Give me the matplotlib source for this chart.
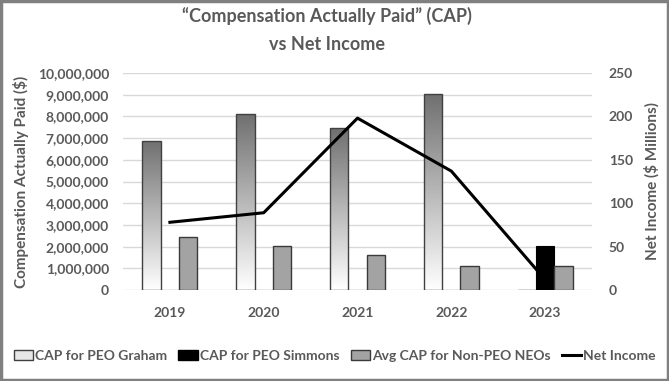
import numpy as np
import matplotlib
matplotlib.use("Agg")
import matplotlib.pyplot as plt
from matplotlib.patches import Rectangle, Patch
from matplotlib.lines import Line2D
from matplotlib.ticker import FuncFormatter, MultipleLocator

years = ["2019", "2020", "2021", "2022", "2023"]
cap_graham = [6880000, 8110000, 7450000, 9030000, 0]
cap_simmons = [0, 0, 0, 0, 2030000]
cap_neo = [2460000, 2040000, 1610000, 1120000, 1120000]
net_income = [78, 89, 198, 137, 12]

TXT = "#595959"
plt.rcParams['font.family'] = ['Lato', 'DejaVu Sans']
plt.rcParams['font.weight'] = 'bold'

fig = plt.figure(figsize=(6.69, 3.81), dpi=100)
ax = fig.add_axes([123/669, 1-290/381, (592-123)/669, (290-73)/381])
ax2 = ax.twinx()

x = np.arange(len(years))
w = 0.195
bg = ax.bar(x - w, cap_graham, w, facecolor='none', edgecolor='#404040', linewidth=1.0, zorder=3)
bs = ax.bar(x, cap_simmons, w, color='black', edgecolor='black', linewidth=0.8, zorder=3)
bn = ax.bar(x + w, cap_neo, w, color='#a3a3a3', edgecolor='#3a3a3a', linewidth=1.0, zorder=3)

# gradient fill for Graham bars
grad = np.linspace(0, 1, 256).reshape(-1, 1)
from matplotlib.colors import LinearSegmentedColormap
cmap = LinearSegmentedColormap.from_list('g', ['#ffffff', '#707070'])
for p in bg.patches:
    if p.get_height() <= 0:
        continue
    x0, y0 = p.get_x(), p.get_y()
    im = ax.imshow(grad, extent=[x0, x0 + p.get_width(), y0, y0 + p.get_height()],
                   origin='lower', cmap=cmap, aspect='auto', zorder=2.5,
                   interpolation='bilinear')
    im.set_clip_path(p)

ax.set_xlim(-0.5, len(years) - 0.5)
ax.set_ylim(0, 10000000)
ax.yaxis.set_major_locator(MultipleLocator(1000000))
ax.yaxis.set_major_formatter(FuncFormatter(lambda v, p: f"{int(v):,}"))
ax.grid(axis='y', color='#d9d9d9', linewidth=1.0, zorder=0)
ax.set_axisbelow(True)
ax.set_xticks(x)
ax.set_xticklabels(years)

ax2.plot(x, net_income, color='black', linewidth=2.2, zorder=5)
ax2.set_ylim(0, 250)
ax2.yaxis.set_major_locator(MultipleLocator(50))

for a in (ax, ax2):
    for s in a.spines.values():
        s.set_visible(False)
    a.tick_params(length=0, colors=TXT, labelsize=10)
    for lbl in a.get_xticklabels() + a.get_yticklabels():
        lbl.set_fontweight('bold')
ax.tick_params(axis='y', pad=10)
ax.tick_params(axis='x', pad=12)
ax2.tick_params(axis='y', pad=12)

ax.set_ylabel("Compensation Actually Paid ($)", color=TXT, fontsize=11, fontweight='bold', labelpad=6)
ax2.set_ylabel("Net Income ($ Millions)", color=TXT, fontsize=11, fontweight='bold', labelpad=8)

fig.text(0.489, 1-16/381, "\u201cCompensation Actually Paid\u201d (CAP)", ha='center', va='center',
         color=TXT, fontsize=13, fontweight='bold')
fig.text(0.489, 1-44/381, "vs Net Income", ha='center', va='center',
         color=TXT, fontsize=13, fontweight='bold')

handles = [Patch(facecolor='#e6e6e6', edgecolor='#404040', linewidth=1.0),
           Patch(facecolor='black', edgecolor='black'),
           Patch(facecolor='#a3a3a3', edgecolor='#3a3a3a', linewidth=1.0),
           Line2D([0], [0], color='black', linewidth=2.2)]
labels = ["CAP for PEO Graham", "CAP for PEO Simmons", "Avg CAP for Non-PEO NEOs", "Net Income"]
leg = fig.legend(handles, labels, loc='center left', bbox_to_anchor=(8/669, 1-356/381), ncol=4,
                 frameon=False, fontsize=10, handlelength=1.4, handleheight=0.7, handletextpad=0.15,
                 columnspacing=0.8, borderaxespad=0)
for t in leg.get_texts():
    t.set_color(TXT)
    t.set_fontweight('bold')

fig.patches.append(Rectangle((0.002, 0.003), 0.996, 0.994, transform=fig.transFigure,
                             fill=False, edgecolor='#808080', linewidth=2.5))

fig.savefig("out.png", dpi=100)
